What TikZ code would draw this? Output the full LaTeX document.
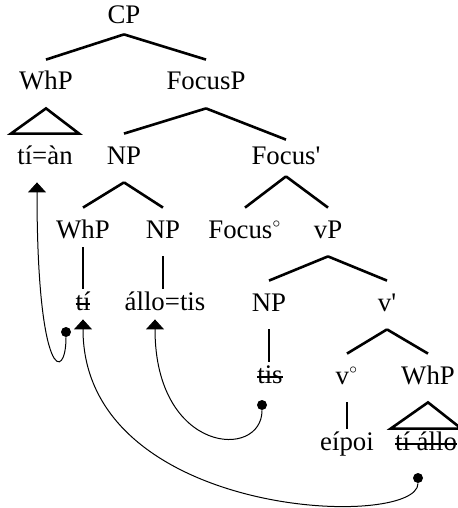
\documentclass[tikz,border=0pt]{standalone}
\usepackage{fontspec}
\setmainfont{Liberation Serif}[Ligatures=TeXOff]
\usetikzlibrary{arrows.meta}
\newcommand{\struck}[1]{\setbox0=\hbox{#1}\rlap{\rule[2.7pt]{\wd0}{0.9pt}}\box0}
\newcommand{\zero}{$^{\scriptscriptstyle\circ}$}
\tikzset{cat/.style={anchor=base, text height=9pt, text depth=3pt, inner xsep=2pt, inner ysep=6pt, font=\fontsize{13.4}{16}\selectfont}}
\tikzset{word/.style={cat, inner ysep=1.5pt}}
\tikzset{branch/.style={line width=1.3pt}}
\tikzset{copy/.style={circle, fill, inner sep=0pt, minimum size=5pt}}
\tikzset{movement/.style={line width=0.5pt, -{Triangle[width=9pt, length=5pt]}}}

\begin{document}
\begin{tikzpicture}[x=0.5pt, y=-0.5pt]
    \useasboundingbox (0,0) rectangle (458,508);
    \node[cat, inner ysep=2pt] (cp) at (124,24) {CP};
    \node[cat] (whp) at (46,90) {WhP};
    \node[cat] (focp) at (206,90) {FocusP};
    \node[cat, inner xsep=3pt] (tian) at (45,164) {tí=àn};
    \node[cat] (np) at (124,164) {NP};
    \node[cat, inner ysep=3pt] (focbar) at (286,164) {Focus'};
    \node[cat] (whpin) at (83,238) {WhP};
    \node[cat] (npin) at (163,238) {NP};
    \node[cat] (foc) at (245,238) {Focus\zero};
    \node[cat] (vp) at (328,238) {vP};
    \node[word] (ti) at (83,310) {\struck{tí}};
    \node[word] (allotis) at (165,310) {állo=tis};
    \node[cat] (npsubj) at (269,311) {NP};
    \node[cat] (vbar) at (387,311) {v'};
    \node[word] (tis) at (270,383) {\struck{tis}};
    \node[cat] (v) at (347,384) {v\zero};
    \node[cat] (whpobj) at (428,384) {WhP};
    \node[word] (eipoi) at (347,450) {eípoi};
    \node[word] (tiallo) at (426,450) {\struck{tí állo}};
    \draw[branch] (cp.south) -- (whp.north);
    \draw[branch] (cp.south) -- (focp.north);
    \draw[branch] (whp.south) -- (tian.north west) -- (tian.north east) -- cycle;
    \draw[branch] (focp.south) -- (np.north);
    \draw[branch] (focp.south) -- (focbar.north);
    \draw[branch] (np.south) -- (whpin.north);
    \draw[branch] (np.south) -- (npin.north);
    \draw[branch] (focbar.south) -- (foc.north);
    \draw[branch] (focbar.south) -- (vp.north);
    \draw[branch, shorten <=-4.5pt] (whpin.south) -- (ti.north);
    \draw[branch] (npin.south) -- (npin.south |- allotis.north);
    \draw[branch] (vp.south) -- (npsubj.north);
    \draw[branch] (vp.south) -- (vbar.north);
    \draw[branch] (npsubj.south) -- (npsubj.south |- tis.north);
    \draw[branch] (vbar.south) -- (v.north);
    \draw[branch] (vbar.south) -- (whpobj.north);
    \draw[branch] (v.south) -- (eipoi.north);
    \draw[branch] (whpobj.south) -- (tiallo.north west) -- (tiallo.north east) -- cycle;
    \node[copy] (d1) at (66,332) {};
    \node[copy] (d2) at (262,405) {};
    \node[copy] (d3) at (418,478) {};
    \draw[movement] (d1) .. controls +(0,50) and +(0,200) .. ([xshift=-4pt]tian.south);
    \draw[movement] (d2) .. controls +(0,55) and +(0,135) .. ([xshift=-5pt]allotis.south);
    \draw[movement] (d3) .. controls +(0,52) and +(0,200) .. (ti.south);
\end{tikzpicture}
\end{document}
